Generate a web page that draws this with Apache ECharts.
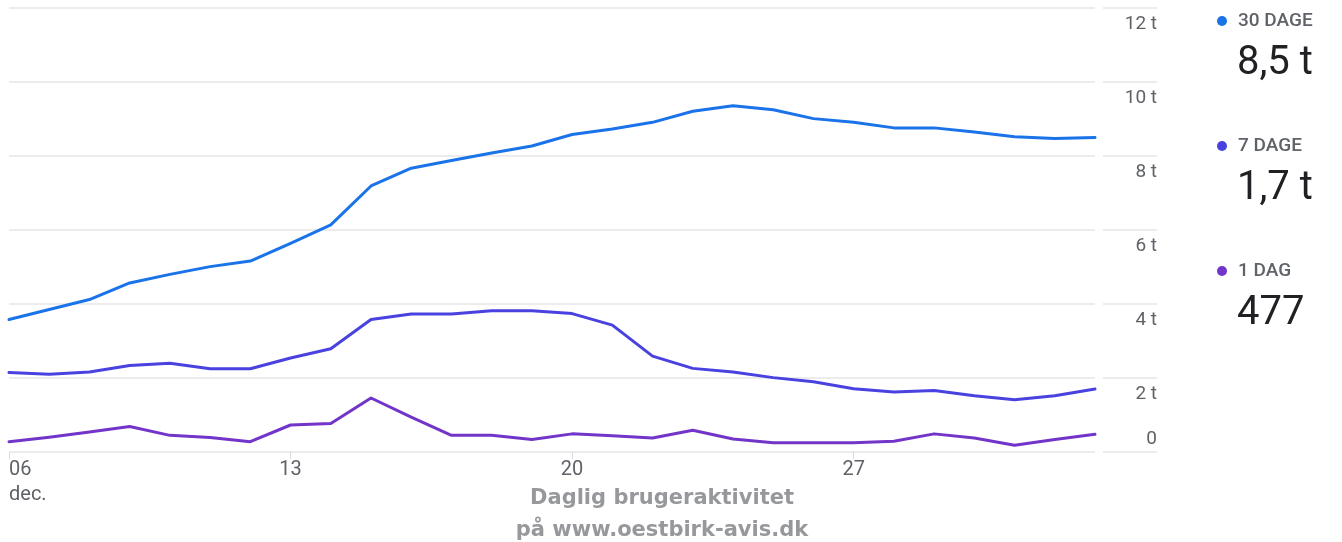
<!DOCTYPE html>
<html>
<head>
<meta charset="utf-8">
<script src="https://cdn.jsdelivr.net/npm/echarts@6/dist/echarts.min.js"></script>
<style>
    html, body { margin: 0; padding: 0; background: #fff; }
    #chart { width: 1342px; height: 542px; }
</style>
</head>
<body>
<div id="chart"></div>
<script>
// dage fra 6. dec. til 2. jan.
var dayLabels = ['06', '07', '08', '09', '10', '11', '12', '13', '14', '15', '16', '17', '18', '19',
    '20', '21', '22', '23', '24', '25', '26', '27', '28', '29', '30', '31', '01', '02'];
var monthLabel = 'dec.';

var seriesNames = ['30 DAGE', '7 DAGE', '1 DAG'];
var thirtyDays = [3580, 3850, 4120, 4570, 4800, 5010, 5160, 5640, 6140, 7190, 7670, 7880, 8080, 8270,
    8580, 8730, 8910, 9210, 9360, 9250, 9010, 8910, 8760, 8760, 8650, 8520, 8470, 8500];
var sevenDays = [2150, 2100, 2160, 2340, 2400, 2250, 2250, 2540, 2790, 3580, 3730, 3730, 3820, 3820,
    3740, 3430, 2590, 2260, 2160, 2010, 1900, 1710, 1620, 1660, 1520, 1410, 1520, 1700];
var oneDay = [280, 400, 540, 690, 450, 390, 280, 730, 770, 1460, 940, 450, 450, 340,
    490, 440, 380, 590, 350, 250, 250, 250, 290, 490, 380, 180, 340, 477];

var yTicks = [0, 2000, 4000, 6000, 8000, 10000, 12000];
var titleLines = ['Daglig brugeraktivitet', 'på www.oestbirk-avis.dk'];

var colors = ['#1a73e8', '#4a42e0', '#7335c9'];
var labelColor = '#5f6368';
var gridColor = '#e6e6e6';

function formatValue(v) {
    if (v >= 1000) {
        return (v / 1000).toFixed(1).replace('.', ',') + ' t';
    }
    return String(v);
}

function tickLabel(v) {
    return v === 0 ? '0' : (v / 1000) + ' t';
}

function legendGraphics() {
    var all = [thirtyDays, sevenDays, oneDay];
    var rows = [20, 145, 270];
    var items = [];
    for (var i = 0; i < all.length; i++) {
        var y = rows[i];
        items.push({
            type: 'circle', shape: {cx: 1222, cy: y + 1, r: 5},
            style: {fill: colors[i]}
        });
        items.push({
            type: 'text', x: 1238, y: y + 1,
            style: {
                text: seriesNames[i], fill: labelColor, fontSize: 19, fontWeight: 500,
                fontFamily: 'Roboto', verticalAlign: 'middle', align: 'left'
            }
        });
        items.push({
            type: 'text', x: 1237, y: y + 44,
            style: {
                text: formatValue(all[i][all[i].length - 1]), fill: '#202124', fontSize: 40,
                fontFamily: 'Roboto', verticalAlign: 'middle', align: 'left'
            }
        });
    }
    return items;
}

function lineSeries(idx, data) {
    return {
        name: seriesNames[idx],
        type: 'line',
        data: data,
        symbol: 'none',
        xAxisIndex: 0,
        yAxisIndex: 0,
        lineStyle: {color: colors[idx], width: 3, join: 'round', cap: 'round'},
        z: 10 - idx
    };
}

var myChart = echarts.init(document.getElementById('chart'), null, {renderer: 'canvas'});
var option = {
    animation: false,
    backgroundColor: '#fff',
    textStyle: {fontFamily: 'Roboto'},
    title: {
        text: titleLines.join('\n'),
        left: 657,
        top: 478,
        textAlign: 'center',
        textStyle: {
            fontFamily: 'DejaVu Sans',
            fontWeight: 'bold',
            fontSize: 21,
            lineHeight: 32,
            color: '#96989c'
        }
    },
    grid: [
        {left: 9, right: 247, top: 8, bottom: 90},
        {left: 1103, right: 185, top: 8, bottom: 90}
    ],
    xAxis: [
        {
            type: 'category',
            gridIndex: 0,
            data: dayLabels,
            boundaryGap: false,
            axisLine: {show: false},
            axisTick: {
                show: true,
                length: 7,
                interval: function (index) { return index % 7 === 0; },
                lineStyle: {color: '#dadce0', width: 1}
            },
            axisLabel: {
                interval: function (index) { return index % 7 === 0; },
                formatter: function (value, index) {
                    return index === 0 ? value + '\n' + monthLabel : value;
                },
                alignMinLabel: 'left',
                color: labelColor,
                fontSize: 20,
                lineHeight: 25,
                margin: 5
            },
            splitLine: {show: false}
        },
        {
            type: 'value',
            gridIndex: 1,
            show: false
        }
    ],
    yAxis: [
        {
            type: 'value',
            gridIndex: 0,
            min: yTicks[0],
            max: yTicks[yTicks.length - 1],
            interval: yTicks[1] - yTicks[0],
            axisLine: {show: false},
            axisTick: {show: false},
            axisLabel: {show: false},
            splitLine: {lineStyle: {color: gridColor, width: 1.5}}
        },
        {
            type: 'value',
            gridIndex: 1,
            position: 'right',
            min: yTicks[0],
            max: yTicks[yTicks.length - 1],
            interval: yTicks[1] - yTicks[0],
            axisLine: {show: false},
            axisTick: {show: false},
            axisLabel: {
                inside: true,
                margin: 0,
                verticalAlign: 'top',
                padding: [7, 0, 0, 0],
                color: labelColor,
                fontSize: 19,
                showMinLabel: true,
                showMaxLabel: true,
                formatter: function (v) { return v === 0 ? '' : tickLabel(v); }
            },
            splitLine: {lineStyle: {color: gridColor, width: 1.5}}
        },
        {
            type: 'value',
            gridIndex: 1,
            position: 'right',
            min: yTicks[0],
            max: yTicks[yTicks.length - 1],
            interval: yTicks[1] - yTicks[0],
            axisLine: {show: false},
            axisTick: {show: false},
            axisLabel: {
                inside: true,
                margin: 0,
                verticalAlign: 'bottom',
                padding: [0, 0, 3, 0],
                color: labelColor,
                fontSize: 19,
                showMinLabel: true,
                formatter: function (v) { return v === 0 ? tickLabel(v) : ''; }
            },
            splitLine: {show: false}
        }
    ],
    series: [
        lineSeries(0, thirtyDays),
        lineSeries(1, sevenDays),
        lineSeries(2, oneDay)
    ],
    graphic: legendGraphics()
};
myChart.setOption(option);
</script>
</body>
</html>
